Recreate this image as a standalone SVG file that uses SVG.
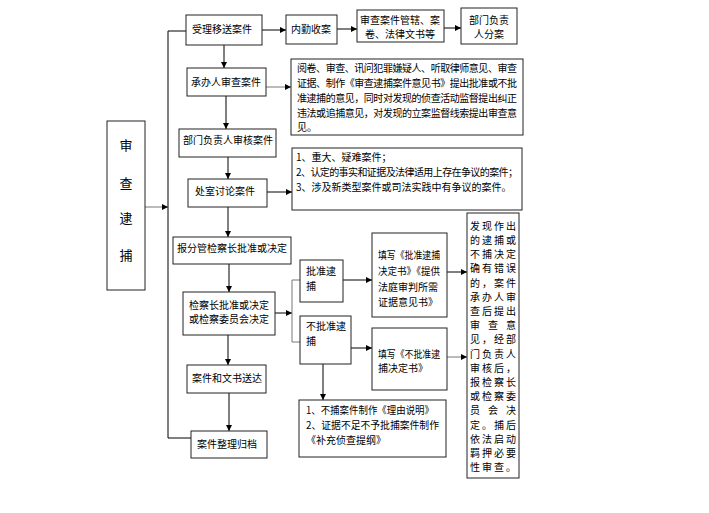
<svg xmlns="http://www.w3.org/2000/svg" width="709" height="513" viewBox="0 0 709 513">
<defs>
<marker id="ah" viewBox="0 0 6 6" refX="6" refY="3" markerWidth="6" markerHeight="6" markerUnits="userSpaceOnUse" orient="auto">
<path d="M0,0 L6,3 L0,6 z" fill="#000"/>
</marker>
<style>
rect{fill:#fff;stroke:#222;stroke-width:1}
text{font-family:"Noto Sans CJK SC","Liberation Sans",sans-serif;font-size:10px;fill:#000}
.c{text-anchor:middle}
.big{font-size:13px}
line,polyline{stroke:#000;stroke-width:1;fill:none}
.g{stroke:#777}
.a{marker-end:url(#ah)}
</style>
</defs>
<rect x="0" y="0" width="709" height="513" style="fill:#fff;stroke:none"/>

<g id="connectors">
<line class="a g" x1="145" y1="207" x2="168" y2="207"/>
<line x1="168" y1="31" x2="168" y2="438"/>
<line x1="168" y1="31" x2="186" y2="31"/>
<line x1="168" y1="438" x2="191" y2="438"/>
<line class="a" x1="262" y1="30" x2="286" y2="30"/>
<line class="a" x1="337" y1="29" x2="357" y2="29"/>
<line class="a" x1="444" y1="28" x2="461" y2="28"/>
<line class="a" x1="224" y1="45" x2="224" y2="68"/>
<line class="a g" x1="266" y1="87" x2="291" y2="87"/>
<line class="a" x1="226" y1="96" x2="226" y2="129"/>
<line class="a" x1="228" y1="157" x2="228" y2="179"/>
<line class="a" x1="267" y1="192" x2="292" y2="192"/>
<line class="a" x1="228" y1="207" x2="228" y2="237"/>
<line class="a" x1="229" y1="264" x2="229" y2="292"/>
<line class="a" x1="275" y1="313" x2="292" y2="313"/>
<polyline class="g" points="300,280 292,280 292,342 300,342"/>
<line class="a" x1="343" y1="280" x2="372" y2="280"/>
<line class="a" x1="351" y1="348" x2="372" y2="348"/>
<line class="a" x1="447" y1="272" x2="467" y2="272"/>
<line class="a g" x1="447" y1="357" x2="467" y2="357"/>
<line class="a" x1="323" y1="364" x2="323" y2="400"/>
<line class="a" x1="228" y1="335" x2="228" y2="365"/>
<line class="a" x1="229" y1="393" x2="229" y2="431"/>
</g>

<g id="n-shencha">
<rect x="107" y="121" width="38" height="169"/>
<text class="c big" x="126" y="150">审</text>
<text class="c big" x="126" y="188">查</text>
<text class="c big" x="126" y="223">逮</text>
<text class="c big" x="126" y="260">捕</text>
</g>

<g id="n-shouli">
<rect x="186" y="15" width="76" height="30"/>
<text class="c" x="222" y="33">受理移送案件</text>
</g>

<g id="n-neiqin">
<rect x="286" y="15" width="51" height="29"/>
<text class="c" x="311" y="33">内勤收案</text>
</g>

<g id="n-guanxia">
<rect x="357" y="10" width="87" height="32"/>
<text class="c" x="400" y="24">审查案件管辖、案</text>
<text class="c" x="400" y="38">卷、法律文书等</text>
</g>

<g id="n-fenan">
<rect x="461" y="8" width="56" height="36"/>
<text class="c" x="489" y="24">部门负责</text>
<text class="c" x="489" y="38">人分案</text>
</g>

<g id="n-chengban">
<rect x="187" y="68" width="79" height="28"/>
<text class="c" x="226" y="86">承办人审查案件</text>
</g>

<g id="n-yuejuan">
<rect x="291" y="59" width="232" height="76"/>
<text x="297" y="72" textLength="220">阅卷、审查、讯问犯罪嫌疑人、听取律师意见、审查</text>
<text x="297" y="87" textLength="220">证据、制作《审查逮捕案件意见书》提出批准或不批</text>
<text x="297" y="102" textLength="220">准逮捕的意见，同时对发现的侦查活动监督提出纠正</text>
<text x="297" y="117" textLength="220">违法或追捕意见，对发现的立案监督线索提出审查意</text>
<text x="297" y="131">见。</text>
</g>

<g id="n-bumen">
<rect x="179" y="129" width="97" height="28"/>
<text class="c" x="228" y="144">部门负责人审核案件</text>
</g>

<g id="n-chushi">
<rect x="188" y="179" width="79" height="28"/>
<text x="195" y="195">处室讨论案件</text>
</g>

<g id="n-taolun">
<rect x="292" y="148" width="230" height="62"/>
<text x="296" y="161">1、重大、疑难案件；</text>
<text x="296" y="176" textLength="222">2、认定的事实和证据及法律适用上存在争议的案件；</text>
<text x="296" y="191">3、涉及新类型案件或司法实践中有争议的案件。</text>
</g>

<g id="n-baofenguan">
<rect x="173" y="237" width="118" height="27"/>
<text class="c" x="232" y="252">报分管检察长批准或决定</text>
</g>

<g id="n-jianchazhang">
<rect x="183" y="292" width="92" height="43"/>
<text class="c" x="229" y="309">检察长批准或决定</text>
<text class="c" x="229" y="323">或检察委员会决定</text>
</g>

<g id="n-pizhun">
<rect x="300" y="260" width="43" height="42"/>
<text x="306" y="275">批准逮</text>
<text x="306" y="290">捕</text>
</g>

<g id="n-bupizhun">
<rect x="300" y="316" width="51" height="48"/>
<text x="306" y="330">不批准逮</text>
<text x="306" y="345">捕</text>
</g>

<g id="n-tianxie1">
<rect x="372" y="233" width="75" height="84"/>
<text x="378" y="259" textLength="62" lengthAdjust="spacingAndGlyphs">填写《批准逮捕</text>
<text x="378" y="275" textLength="62" lengthAdjust="spacingAndGlyphs">决定书》《提供</text>
<text x="378" y="291">法庭审判所需</text>
<text x="378" y="306">证据意见书》</text>
</g>

<g id="n-tianxie2">
<rect x="372" y="328" width="75" height="62"/>
<text x="378" y="358" textLength="62" lengthAdjust="spacingAndGlyphs">填写《不批准逮</text>
<text x="378" y="372">捕决定书》</text>
</g>

<g id="n-liyou">
<rect x="299" y="400" width="147" height="57"/>
<text x="306" y="414" textLength="128" lengthAdjust="spacingAndGlyphs">1、不捕案件制作《理由说明》</text>
<text x="306" y="429" textLength="133" lengthAdjust="spacingAndGlyphs">2、证据不足不予批捕案件制作</text>
<text x="306" y="444">《补充侦查提纲》</text>
</g>

<g id="n-cuowu">
<rect x="467" y="213" width="52" height="265"/>
<text x="470" y="230" textLength="46">发现作出</text>
<text x="470" y="244" textLength="46">的逮捕或</text>
<text x="470" y="258" textLength="46">不捕决定</text>
<text x="470" y="272" textLength="46">确有错误</text>
<text x="470" y="287" textLength="46">的，案件</text>
<text x="470" y="301" textLength="46">承办人审</text>
<text x="470" y="315" textLength="46">查后提出</text>
<text x="470" y="329" textLength="46">审 查 意</text>
<text x="470" y="343" textLength="46">见，经部</text>
<text x="470" y="358" textLength="46">门负责人</text>
<text x="470" y="372" textLength="46">审核后，</text>
<text x="470" y="386" textLength="46">报检察长</text>
<text x="470" y="400" textLength="46">或检察委</text>
<text x="470" y="414" textLength="46">员 会 决</text>
<text x="470" y="429" textLength="46">定。捕后</text>
<text x="470" y="443" textLength="46">依法启动</text>
<text x="470" y="457" textLength="46">羁押必要</text>
<text x="470" y="471" textLength="46">性审查。</text>
</g>

<g id="n-songda">
<rect x="187" y="365" width="79" height="28"/>
<text class="c" x="227" y="382">案件和文书送达</text>
</g>

<g id="n-guidang">
<rect x="191" y="431" width="76" height="27"/>
<text class="c" x="227" y="448">案件整理归档</text>
</g>
</svg>
